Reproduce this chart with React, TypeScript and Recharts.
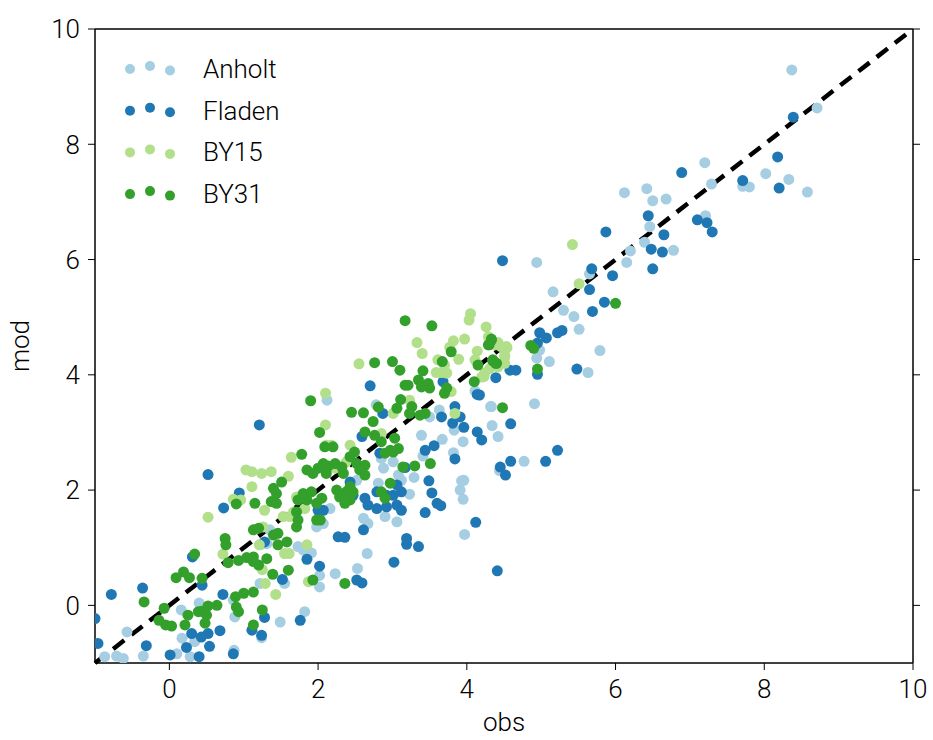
import React from "react";
import { ScatterChart, Scatter, XAxis, YAxis, ReferenceLine, Legend, Label } from "recharts";

const FONT = "Roboto, 'Liberation Sans', sans-serif";

const xTicks = [0, 2, 4, 6, 8, 10];
const yTicks = [0, 2, 4, 6, 8, 10];
const diagonal = [-1, 10];

const anholt: [number, number][] = [
  [7.2, 7.68], [6.12, 7.16], [6.42, 7.23], [6.5, 7.02], [6.68, 7.05], [6.46, 6.57], [7.21, 6.76], [6.39, 6.3],
  [6.78, 6.16], [6.2, 6.15], [6.15, 5.95], [4.94, 5.95], [5.65, 5.75], [5.16, 5.44], [5.3, 5.12], [5.44, 5.01],
  [5.51, 4.79], [4.98, 4.43], [4.94, 4.29], [5.11, 4.23], [5.79, 4.42], [5.63, 4.04], [4.33, 3.45], [4.91, 3.5],
  [4.34, 3.12], [4.42, 2.93], [4.77, 2.5], [4.44, 2.34],
  [8.37, 9.29], [8.71, 8.63], [7.29, 7.31], [8.02, 7.49], [7.71, 7.27], [7.8, 7.26], [8.33, 7.39], [8.58, 7.17],
  [3.95, 2.84], [3.83, 3.04], [3.67, 2.88], [3.41, 2.59], [3.39, 2.95], [3.82, 2.65], [3.29, 2.22], [3.93, 2.16],
  [3.96, 2.17], [3.91, 2.0], [3.23, 1.93], [3.95, 1.84], [3.97, 1.23],
  [2.12, 3.56], [2.78, 3.48], [4.11, 3.72], [3.63, 3.39], [4.32, 3.45], [3.5, 3.27],
  [2.52, 2.17], [2.85, 2.55], [3.01, 2.49], [2.88, 2.38], [2.81, 2.12], [3.08, 2.26], [3.12, 2.17], [2.9, 1.54],
  [3.06, 1.45], [2.61, 1.51], [2.67, 1.42], [1.98, 1.36], [2.07, 1.42], [2.16, 1.68], [1.35, 1.31],
  [1.22, 1.05], [1.31, 1.07], [1.73, 1.02], [1.8, 0.96], [1.91, 0.91], [2.02, 0.52], [2.02, 0.32], [2.23, 0.55],
  [2.53, 0.64], [2.66, 0.9], [1.55, 0.38], [1.22, 0.38], [1.49, -0.29], [1.82, -0.11], [1.24, -0.56],
  [0.86, 0.09], [0.4, 0.04], [0.16, -0.08], [0.88, -0.2], [-0.57, -0.46], [0.17, -0.57], [0.34, -0.63], [0.1, -0.84],
  [0.28, -0.89], [-0.35, -0.88], [-0.87, -0.89], [-0.71, -0.88], [-0.62, -0.92], [0.87, -0.78],
];

const fladen: [number, number][] = [
  [6.89, 7.51], [6.44, 6.76], [7.1, 6.69], [7.23, 6.64], [7.3, 6.48], [6.65, 6.43], [5.87, 6.48], [6.48, 6.18],
  [6.63, 6.13], [6.5, 5.84], [4.48, 5.98], [5.68, 5.84], [5.96, 5.72], [5.65, 5.48], [5.85, 5.26], [5.69, 5.1],
  [4.98, 4.73], [5.07, 4.64], [5.22, 4.73], [5.28, 4.77], [4.95, 4.55], [4.95, 4.01], [5.48, 4.1], [4.39, 3.95],
  [4.58, 4.08], [4.66, 4.08], [4.17, 3.65], [4.59, 3.15], [4.2, 2.87], [5.22, 2.69], [5.06, 2.5], [4.59, 2.5],
  [4.45, 2.4], [4.52, 2.26],
  [8.39, 8.47], [8.18, 7.78], [7.71, 7.37], [8.2, 7.24],
  [3.19, 1.06], [3.35, 1.02], [4.41, 0.6],
  [4.14, 3.01], [3.96, 3.09], [3.81, 3.16], [3.56, 2.77], [3.44, 2.69], [3.84, 2.54], [3.17, 2.39], [3.49, 2.16],
  [3.53, 1.95], [3.6, 1.77], [3.65, 1.73], [3.44, 1.61], [4.12, 1.44], [3.19, 1.16],
  [1.21, 3.13], [2.59, 2.93], [2.83, 2.64], [2.43, 2.14], [2.47, 1.91], [2.79, 1.97], [2.92, 1.91], [3.01, 1.91],
  [2.63, 1.86], [2.67, 1.74], [2.79, 1.68], [2.92, 1.71], [3.06, 1.74], [3.12, 1.65], [2.61, 1.31], [2.27, 1.19],
  [2.36, 1.18], [2.0, 1.65], [2.07, 1.65], [3.06, 2.09], [3.12, 1.97],
  [2.7, 3.81], [2.87, 3.33], [4.14, 3.66], [3.68, 3.88], [3.84, 3.45], [3.66, 3.27], [3.91, 3.27],
  [1.28, 1.1], [1.85, 0.8], [2.02, 0.68], [2.52, 0.44], [2.59, 0.39], [3.02, 0.75], [1.52, 0.45], [1.28, -0.21],
  [1.76, -0.26], [1.11, -0.43], [1.24, -0.52],
  [0.31, 0.84], [0.44, 0.35], [-0.36, 0.3], [-0.78, 0.19], [0.72, 0.19], [-1.0, -0.23], [-0.96, -0.66], [0.3, -0.49],
  [0.43, -0.55], [0.52, -0.49], [0.68, -0.44], [0.23, -0.73], [0.54, -0.71], [0.4, -0.89], [0.01, -0.86], [-0.31, -0.7],
  [0.86, -0.84],
  [0.52, 2.27], [0.94, 1.95], [0.73, 1.69],
];

const by15: [number, number][] = [
  [5.42, 6.26], [5.51, 5.58], [4.26, 4.83], [4.42, 4.56], [4.54, 4.47], [4.51, 4.31], [4.31, 4.11], [4.23, 3.97],
  [2.1, 3.13], [2.11, 2.78], [2.18, 2.78], [1.64, 2.57], [2.43, 2.78], [2.85, 2.98], [1.11, 2.32], [1.24, 2.29],
  [1.37, 2.32], [1.6, 2.24], [2.23, 2.38], [2.38, 2.49], [1.71, 1.88], [1.82, 1.68], [1.28, 1.65], [1.26, 1.36],
  [1.53, 1.54], [1.62, 1.54], [1.67, 1.62],
  [1.21, 1.05], [1.55, 0.9], [1.61, 0.9], [1.85, 1.05], [1.87, 0.41], [1.25, 0.62], [1.29, 0.38], [1.43, 0.19],
  [0.72, 0.89],
  [1.03, 2.35], [0.86, 1.84], [0.96, 1.83], [0.52, 1.53], [1.11, 2.06],
  [2.55, 4.19], [2.1, 3.68], [3.01, 3.33],
  [4.05, 5.06], [4.03, 4.95], [3.33, 4.56], [3.4, 4.37], [3.82, 4.59], [3.97, 4.62], [3.77, 4.48], [3.89, 4.27],
  [3.61, 4.26], [3.7, 4.17], [4.14, 4.41], [4.11, 4.26], [4.51, 4.34], [4.51, 4.2], [4.42, 4.14], [4.24, 4.03],
  [4.2, 3.96], [3.59, 4.04], [3.66, 4.04], [3.73, 4.03], [3.79, 3.71], [3.23, 3.56], [3.84, 3.33], [4.38, 4.52],
  [4.46, 4.49], [4.53, 4.49], [4.29, 4.66],
];

const by31: [number, number][] = [
  [6.0, 5.24], [4.86, 4.51], [4.9, 4.46], [4.95, 4.1], [4.33, 4.6], [4.3, 4.52], [4.35, 4.24], [4.4, 4.2], [4.48, 3.43],
  [2.02, 3.0], [2.09, 2.75], [2.2, 2.75], [1.78, 2.62], [2.49, 2.66], [2.43, 2.58], [2.63, 3.01], [2.74, 3.19],
  [2.76, 2.95], [2.85, 2.84], [3.03, 2.9], [2.97, 2.69], [3.08, 2.72], [2.9, 2.64], [3.01, 2.66], [3.14, 2.4],
  [1.85, 2.35], [2.0, 2.38], [2.07, 2.46], [2.14, 2.42], [2.23, 2.46], [1.93, 2.29], [2.11, 2.29], [2.32, 2.4],
  [2.34, 2.29], [2.52, 2.46], [2.56, 2.35], [2.63, 2.43], [2.63, 2.26], [2.43, 2.06], [2.38, 1.97], [2.47, 1.97],
  [2.29, 1.88], [2.43, 1.83], [2.36, 1.77], [2.97, 2.12], [2.85, 1.97], [2.9, 1.86], [1.98, 1.77], [2.05, 1.86],
  [2.03, 1.48], [1.98, 1.48], [2.25, 2.0], [1.85, 1.83], [1.8, 1.94], [1.91, 1.97], [1.73, 1.83], [1.71, 1.62],
  [1.73, 1.48], [1.71, 1.36], [1.51, 2.14], [1.4, 2.03], [1.44, 1.94], [1.37, 1.8], [1.44, 1.77], [1.15, 1.77],
  [1.13, 1.31], [1.2, 1.34], [1.4, 1.22], [1.46, 1.25],
  [3.3, 2.42], [3.51, 2.46],
  [1.46, 1.05], [1.58, 1.1], [1.93, 0.44], [2.36, 0.38], [1.13, 0.84], [1.31, 0.81], [1.2, 0.7], [1.13, 0.76],
  [1.39, 0.54], [1.6, 0.61], [1.13, 0.23], [1.25, -0.08], [1.13, -0.34],
  [0.76, 1.05], [0.34, 0.89], [0.79, 0.74], [0.93, 0.78], [1.04, 0.83], [0.19, 0.58], [0.09, 0.48], [0.27, 0.48],
  [0.44, 0.47], [-0.34, 0.06], [0.89, 0.15], [1.0, 0.21], [0.9, -0.03], [0.93, -0.11], [-0.07, -0.05], [0.52, -0.01],
  [0.64, 0.0], [0.39, -0.11], [0.43, -0.1], [0.5, -0.17], [0.25, -0.17], [-0.14, -0.26], [-0.05, -0.34], [0.03, -0.36],
  [0.21, -0.34], [0.48, -0.31],
  [0.9, 1.76], [0.75, 1.16],
  [3.17, 4.94], [2.76, 4.21], [3.0, 4.23], [3.1, 4.08], [1.9, 3.55], [3.17, 3.82], [3.11, 3.57], [2.45, 3.35],
  [2.61, 3.34], [2.81, 3.44], [3.06, 3.42],
  [3.53, 4.85], [4.33, 4.62], [4.29, 4.52], [3.79, 4.4], [3.67, 4.23], [4.15, 4.17], [4.35, 4.26], [4.39, 4.2],
  [3.41, 4.07], [4.1, 3.88], [3.73, 3.77], [3.7, 3.68], [3.35, 3.91], [3.39, 3.79], [3.5, 3.77], [3.48, 3.85],
  [3.21, 3.82], [3.26, 3.45], [3.23, 3.33], [3.37, 3.3], [3.44, 3.33],
];

const series = [
  { name: "Anholt", color: "#a6cee3", points: anholt },
  { name: "Fladen", color: "#1f78b4", points: fladen },
  { name: "BY15", color: "#b2df8a", points: by15 },
  { name: "BY31", color: "#33a02c", points: by31 },
];

const toData = (pts: [number, number][]) => pts.map(([x, y]) => ({ x, y }));

const Dot = (props: any) => <circle cx={props.cx} cy={props.cy} r={5.5} fill={props.fill} />;

const textStyle = { fontSize: 26, fill: "#000", fontFamily: FONT, fontWeight: 300 };

// matplotlib-style legend: three markers per row, middle one slightly higher
const renderLegend = () => (
  <svg width={220} height={175}>
    {series.map((s, i) => {
      const cy = 29 + i * 41.7;
      return (
        <g key={s.name}>
          {[0, -3, 1.5].map((dy, j) => (
            <circle key={j} cx={20 + j * 20} cy={cy + dy} r={5} fill={s.color} />
          ))}
          <text x={93} y={cy} dominantBaseline="central" {...textStyle}>
            {s.name}
          </text>
        </g>
      );
    })}
  </svg>
);

const noTick = () => <g />;

export default function App() {
  return (
    <div style={{ position: "absolute", left: 0, top: 0, background: "#fff" }}>
      <ScatterChart width={933} height={740} margin={{ top: 7, right: 0, bottom: 0, left: 0 }}>
        <XAxis
          type="number"
          dataKey="x"
          domain={[-1, 10]}
          ticks={xTicks}
          allowDataOverflow
          height={77}
          tickSize={7}
          tickMargin={10}
          tick={textStyle}
          axisLine={{ stroke: "#000", strokeWidth: 1.5 }}
          tickLine={{ stroke: "#000" }}
        >
          <Label
            content={({ viewBox }: any) => (
              <text x={viewBox.x + viewBox.width / 2} y={viewBox.y + 59} textAnchor="middle" dominantBaseline="central" {...textStyle}>
                obs
              </text>
            )}
          />
        </XAxis>
        <XAxis
          xAxisId="top"
          orientation="top"
          type="number"
          domain={[-1, 10]}
          ticks={xTicks}
          allowDataOverflow
          height={22}
          tickSize={7}
          tick={noTick}
          axisLine={{ stroke: "#000", strokeWidth: 1.5 }}
          tickLine={{ stroke: "#000" }}
        />
        <YAxis
          type="number"
          dataKey="y"
          domain={[-1, 10]}
          ticks={yTicks}
          allowDataOverflow
          width={95}
          tickSize={7}
          tickMargin={8}
          tick={textStyle}
          axisLine={{ stroke: "#000", strokeWidth: 1.5 }}
          tickLine={{ stroke: "#000" }}
        >
          <Label
            content={({ viewBox }: any) => {
              const cx = viewBox.x + 20;
              const cy = viewBox.y + viewBox.height / 2;
              return (
                <text x={cx} y={cy} transform={`rotate(-90 ${cx} ${cy})`} textAnchor="middle" dominantBaseline="central" {...textStyle}>
                  mod
                </text>
              );
            }}
          />
        </YAxis>
        <YAxis
          yAxisId="right"
          orientation="right"
          type="number"
          domain={[-1, 10]}
          ticks={yTicks}
          allowDataOverflow
          width={20}
          tickSize={7}
          tick={noTick}
          axisLine={{ stroke: "#000", strokeWidth: 1.5 }}
          tickLine={{ stroke: "#000" }}
        />
        {series.map((s) => (
          <Scatter key={s.name} name={s.name} data={toData(s.points)} fill={s.color} shape={Dot} isAnimationActive={false} />
        ))}
        <ReferenceLine
          segment={[
            { x: diagonal[0], y: diagonal[0] },
            { x: diagonal[1], y: diagonal[1] },
          ]}
          stroke="#000"
          strokeWidth={4.5}
          strokeDasharray="14 9"
          ifOverflow="visible"
        />
        <Legend
          layout="vertical"
          align="center"
          verticalAlign="middle"
          content={renderLegend}
          wrapperStyle={{ top: 40, left: 110, width: 220, height: 175 }}
        />
      </ScatterChart>
    </div>
  );
}
